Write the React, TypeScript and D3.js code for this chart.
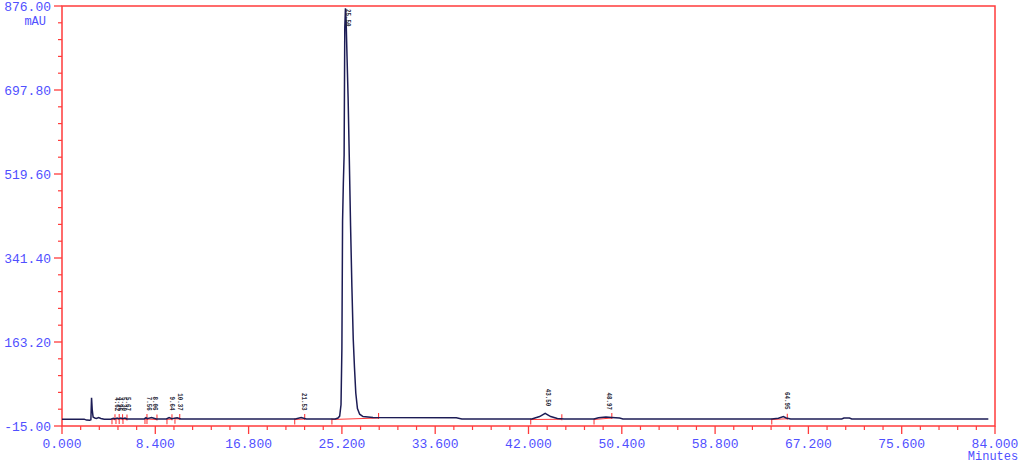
import React from "react";
import * as d3 from "d3";

// Chromatogram trace (minutes, mAU)
const traceTime = [
  0, 2.0, 2.2, 2.5, 2.6, 2.66, 2.72, 2.8, 2.95, 3.1, 3.3, 3.5, 3.8,
  4.4, 4.62, 4.75, 4.96, 5.1, 5.3, 5.45, 5.67, 5.85,
  7.4, 7.56, 7.68, 8.06, 8.5, 9.4, 9.64, 9.9, 10.37, 10.7,
  21.0, 21.53, 22.0, 24.6,
  24.85, 25.0, 25.12, 25.2, 25.26, 25.33, 25.4, 25.46, 25.52, 25.58, 25.66, 25.76,
  25.86, 25.98, 26.1, 26.22, 26.33, 26.45, 26.6, 26.8, 27.1, 28.0, 35.5, 36.0,
  42.3, 43.0, 43.5, 44.0, 44.6, 45.2,
  47.9, 48.3, 48.97, 49.5, 50.2, 50.5,
  63.9, 64.5, 64.95, 65.2, 65.6,
  70.2, 70.4, 70.9, 71.1, 83.4,
];
const traceValue = [
  -0.5, -0.5, -2.5, -3, -2, 45, 20, 4, 2, 1, 3, 1, -0.5,
  -0.5, 1.5, 0, 2, 0.5, 2, 0.5, 2, 0,
  0, 2.5, 0.5, 3, 0, 0, 3, 0.5, 2.5, 0,
  0, 3, 0, 0,
  2, 6, 30, 150, 420, 500, 560, 830, 871, 845, 770, 680,
  560, 410, 280, 170, 110, 55, 22, 10, 5, 3, 2.5, 0,
  0, 5, 12, 5, 1, 0,
  0, 2.5, 4, 3, 2, 0,
  0, 1.5, 5, 2, 0,
  0, 2, 2, 0, 0,
];

// Integrated peaks
const peakTime = [4.62, 4.96, 5.3, 5.67, 7.56, 8.06, 9.64, 10.37, 21.53, 25.5, 43.5, 48.97, 64.95];
const peakLabel = ["4.62", "4.96", "5.30", "5.67", "7.56", "8.06", "9.64", "10.37", "21.53", "25.50", "43.50", "48.97", "64.95"];
const peakStart = [4.5, 4.86, 5.15, 5.49, 7.47, 7.65, 9.45, 10.17, 20.95, 24.3, 42.2, 47.9, 63.9];
const peakEnd = [4.77, 5.15, 5.45, 5.85, 7.65, 8.55, 9.9, 10.6, 21.85, 28.5, 45.0, 49.5, 65.3];

// Axis ticks
const yTicks = [-15, 163.2, 341.4, 519.6, 697.8, 876];
const xTicks = [0, 8.4, 16.8, 25.2, 33.6, 42, 50.4, 58.8, 67.2, 75.6, 84];

const W = 1024;
const H = 469;
const RED = "#ff3b3b";
const BLUE = "#5050ff";
const FONT = "'Liberation Mono', 'DejaVu Sans Mono', monospace";

export default function App() {
  const x = d3.scaleLinear().domain([0, 84]).range([62, 995]);
  const y = d3.scaleLinear().domain([-15, 876]).range([426, 6]);

  const pts: [number, number][] = traceTime.map((t, i) => [t, traceValue[i]]);
  const line = d3
    .line<[number, number]>()
    .x((d) => x(d[0]))
    .y((d) => y(d[1]));

  const interp = (t: number) => {
    for (let i = 1; i < traceTime.length; i++) {
      if (traceTime[i] >= t) {
        const t0 = traceTime[i - 1];
        const t1 = traceTime[i];
        const f = t1 === t0 ? 0 : (t - t0) / (t1 - t0);
        return traceValue[i - 1] + f * (traceValue[i] - traceValue[i - 1]);
      }
    }
    return traceValue[traceValue.length - 1];
  };

  const yMinor: number[] = [];
  for (let i = 0; i < yTicks.length - 1; i++) {
    const step = (yTicks[i + 1] - yTicks[i]) / 5;
    for (let k = 1; k < 5; k++) yMinor.push(yTicks[i] + k * step);
  }
  const xMinor: number[] = [];
  for (let i = 0; i < xTicks.length - 1; i++) {
    const step = (xTicks[i + 1] - xTicks[i]) / 5;
    for (let k = 1; k < 5; k++) xMinor.push(xTicks[i] + k * step);
  }

  return (
    <svg
      width={W}
      height={H}
      style={{ position: "absolute", left: 0, top: 0, background: "#fff" }}
    >
      {/* frame */}
      <rect x={62} y={6} width={933} height={420} fill="none" stroke={RED} strokeWidth={1.5} />

      {/* y ticks */}
      {yTicks.map((v) => (
        <g key={"y" + v}>
          <line x1={54} x2={62} y1={y(v)} y2={y(v)} stroke={RED} strokeWidth={1.3} />
          <text
            x={51}
            y={y(v) + 4.5}
            textAnchor="end"
            fill={BLUE}
            fontFamily={FONT}
            fontSize={13}
          >
            {v.toFixed(2)}
          </text>
        </g>
      ))}
      {yMinor.map((v) => (
        <line key={"ym" + v} x1={58} x2={62} y1={y(v)} y2={y(v)} stroke={RED} strokeWidth={1.2} />
      ))}
      <text x={46} y={25} textAnchor="end" fill={BLUE} fontFamily={FONT} fontSize={12}>
        mAU
      </text>

      {/* x ticks */}
      {xTicks.map((v) => (
        <g key={"x" + v}>
          <line x1={x(v)} x2={x(v)} y1={426} y2={434} stroke={RED} strokeWidth={1.3} />
          <text
            x={x(v)}
            y={448}
            textAnchor="middle"
            fill={BLUE}
            fontFamily={FONT}
            fontSize={13}
          >
            {v.toFixed(3)}
          </text>
        </g>
      ))}
      {xMinor.map((v) => (
        <line key={"xm" + v} x1={x(v)} x2={x(v)} y1={426} y2={430} stroke={RED} strokeWidth={1.2} />
      ))}
      <text x={993} y={460} textAnchor="middle" fill={BLUE} fontFamily={FONT} fontSize={12}>
        Minutes
      </text>

      {/* integration baselines */}
      {peakTime.map((p, i) => {
        const xs = x(peakStart[i]);
        const xe = x(peakEnd[i]);
        const ys = y(interp(peakStart[i])) + 0.5;
        const ye = y(interp(peakEnd[i])) + 0.5;
        return (
          <g key={"ib" + i} stroke={RED} strokeWidth={1.1} fill="none">
            <line x1={xs} x2={xe} y1={ys} y2={ye} />
            <line x1={xs} x2={xs} y1={ys - 1} y2={ys + 5} />
            <line x1={xe} x2={xe} y1={ye - 5} y2={ye + 1} />
          </g>
        );
      })}

      {/* trace */}
      <path d={line(pts) || ""} fill="none" stroke="#1c1c55" strokeWidth={1.5} />

      {/* peak labels */}
      {peakTime.map((p, i) => {
        let top = Infinity;
        traceTime.forEach((t, k) => {
          if (t >= peakStart[i] && t <= peakEnd[i]) top = Math.min(top, y(traceValue[k]));
        });
        top = Math.min(top, y(interp(p)));
        const len = peakLabel[i].length * 3.5;
        let start = top - 7 - len;
        if (start < 9) start = 9;
        const lx = x(p) + 4;
        return (
          <text
            key={"pl" + i}
            transform={`translate(${lx},${start}) rotate(90)`}
            fontFamily={FONT}
            fontSize={8}
            fontWeight="bold"
            fill="#2a2a3a"
            textLength={len}
            lengthAdjust="spacingAndGlyphs"
            dy={2.8}
          >
            {peakLabel[i]}
          </text>
        );
      })}
    </svg>
  );
}
